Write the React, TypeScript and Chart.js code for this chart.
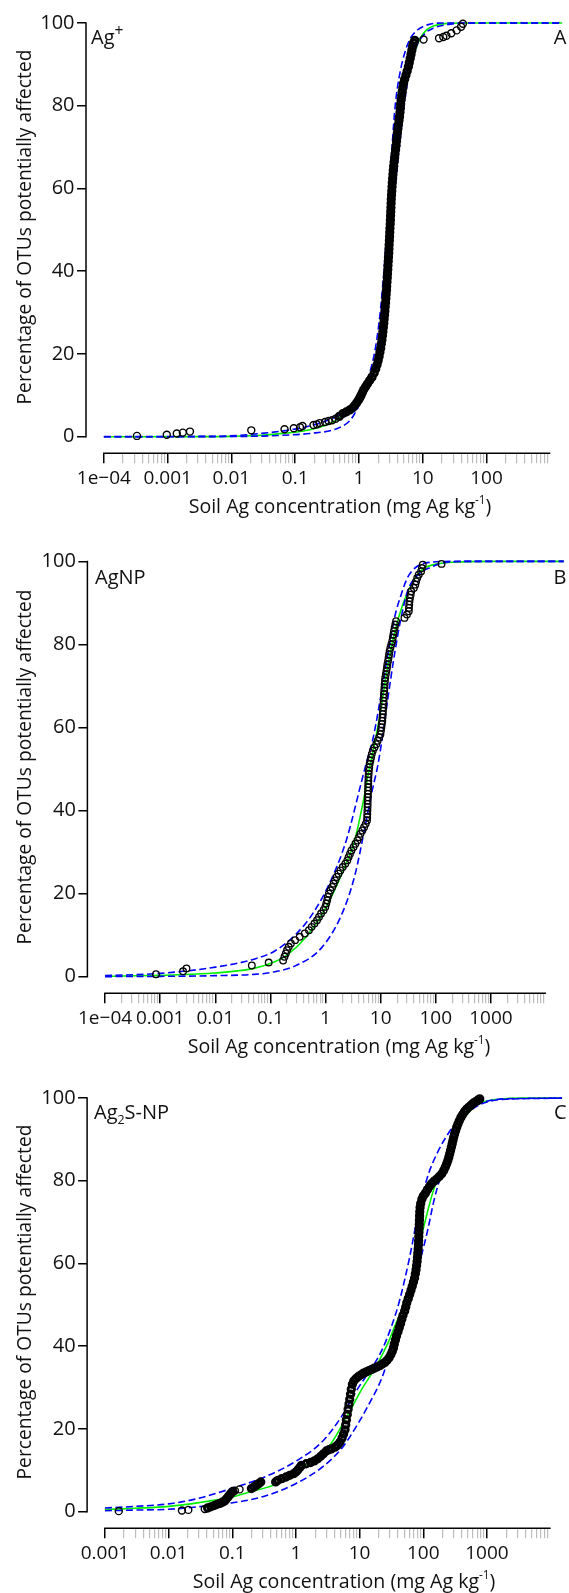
import React, { useEffect, useRef } from 'react';
import { Chart, registerables } from 'chart.js';

Chart.register(...registerables);

type Pt = [number, number];

// ---------------- Panel A : Ag+ ----------------
const agIonOpen: Pt[] = [
  [0.00033, 0.2], [0.00097, 0.5], [0.00139, 0.8], [0.00173, 1.0], [0.00224, 1.25],
  [0.0205, 1.55], [0.068, 1.8], [0.095, 2.05], [0.119, 2.3], [0.13, 2.6], [0.194, 2.85],
  [0.218, 3.0], [0.242, 3.3], [0.294, 3.55], [0.334, 3.8], [0.38, 4.0], [0.43, 4.35],
  [10.3, 96.0], [18, 96.3], [21, 96.6], [23.5, 96.9], [28, 97.5], [34, 98.2], [40, 99.1], [42.6, 99.8],
];
const agIonDense: Pt[] = [
  [0.49, 4.9], [0.56, 5.6], [0.63, 6.0], [0.72, 6.5], [0.8, 7.0], [0.86, 7.6], [0.92, 8.2], [0.98, 8.8],
  [1.03, 9.4], [1.08, 10.0], [1.13, 10.7], [1.19, 11.4], [1.27, 12.1], [1.36, 12.8], [1.47, 13.6], [1.6, 14.4],
  [1.73, 15.4], [1.83, 16.4], [1.92, 17.4], [2.0, 18.4], [2.07, 19.4], [2.13, 20.4], [2.19, 21.4], [2.24, 22.4],
  [2.29, 23.4], [2.33, 24.4], [2.37, 25.4], [2.41, 26.4], [2.45, 27.4], [2.48, 28.4], [2.52, 29.4], [2.55, 30.4],
  [2.58, 31.4], [2.61, 32.4], [2.64, 33.4], [2.67, 34.4], [2.7, 35.4], [2.72, 36.4], [2.75, 37.4], [2.78, 38.4],
  [2.8, 39.4], [2.83, 40.4], [2.85, 41.4], [2.88, 42.4], [2.9, 43.4], [2.93, 44.4], [2.95, 45.4], [2.97, 46.4],
  [3.0, 47.4], [3.02, 48.4], [3.04, 49.4], [3.06, 50.4], [3.09, 51.4], [3.11, 52.4], [3.13, 53.4], [3.15, 54.4],
  [3.17, 55.4], [3.19, 56.4], [3.21, 57.4], [3.24, 58.4], [3.27, 59.4], [3.3, 60.4], [3.33, 61.4], [3.37, 62.4],
  [3.41, 63.4], [3.45, 64.4], [3.5, 65.4], [3.56, 66.4], [3.62, 67.4], [3.68, 68.4], [3.75, 69.4], [3.82, 70.4],
  [3.88, 71.4], [3.94, 72.4], [4.0, 73.4], [4.07, 74.4], [4.15, 75.4], [4.24, 76.4], [4.33, 77.4], [4.4, 78.4],
  [4.45, 79.4], [4.5, 80.4], [4.58, 81.4], [4.67, 82.4], [4.77, 83.4], [4.88, 84.4], [5.0, 85.4], [5.2, 86.4],
  [5.45, 87.4], [5.7, 88.4], [5.95, 89.4], [6.15, 90.4], [6.35, 91.4], [6.55, 92.4], [6.75, 93.4], [6.95, 94.4],
  [7.2, 95.2], [7.5, 95.8],
];
const agIonFit: Pt[] = [
  [1e-4, 0], [0.003, 0.02], [0.01, 0.1], [0.03, 0.35], [0.053, 0.7], [0.1, 1.1], [0.17, 1.7], [0.3, 2.8],
  [0.44, 4.0], [0.7, 6.4], [1.0, 9.0], [1.45, 12.8], [1.95, 19.8], [2.33, 27.7], [2.56, 35.6], [2.85, 43.6],
  [3.06, 51], [3.4, 60], [3.9, 70], [4.5, 78], [5.9, 87], [7.5, 93], [9.1, 96.3], [11.6, 98.4], [15, 99.3],
  [25, 99.9], [60, 100], [1e5, 100],
];
const agIonUpper: Pt[] = [
  [1e-4, 0.02], [0.003, 0.08], [0.009, 0.2], [0.029, 0.8], [0.08, 1.6], [0.17, 2.6], [0.44, 4.9], [0.76, 7.4],
  [1.21, 11.9], [1.73, 19.8], [2.07, 27.7], [2.33, 35.6], [2.57, 43.6], [2.78, 51.5], [3.0, 60], [3.3, 70],
  [3.7, 80], [4.4, 88], [5.4, 93.5], [6.6, 96.6], [8.4, 98.4], [12.2, 99.6], [20, 100], [1e5, 100],
];
const agIonLower: Pt[] = [
  [1e-4, 0], [0.01, 0.05], [0.053, 0.3], [0.17, 0.8], [0.44, 1.9], [0.71, 3.8], [0.85, 5.5], [1.0, 7.5],
  [1.3, 11], [1.7, 16], [2.2, 25], [2.6, 35], [2.95, 45], [3.3, 52.5], [3.7, 60], [4.1, 67], [5.0, 79],
  [6.1, 87.8], [7.9, 94.2], [10.9, 97.5], [15, 98.8], [22, 99.5], [50, 100], [1e5, 100],
];
const agIonTickValues = [1e-4, 1e-3, 1e-2, 0.1, 1, 10, 100];
const agIonTickLabels = ['1e\u221204', '0.001', '0.01', '0.1', '1', '10', '100'];

// ---------------- Panel B : AgNP ----------------
const agnpPoints: Pt[] = [
  [0.00084, 0.6], [0.0026, 1.3], [0.003, 2.0], [0.046, 2.7], [0.093, 3.4], [0.17, 3.9], [0.18, 4.8], [0.19, 5.6],
  [0.2, 6.4], [0.215, 7.2], [0.235, 8.0], [0.28, 8.8], [0.34, 9.6], [0.42, 10.4], [0.5, 11.2], [0.56, 12.0],
  [0.63, 12.8], [0.7, 13.6], [0.76, 14.4], [0.83, 15.2], [0.92, 16.0], [0.99, 16.8], [1.03, 17.6], [1.07, 18.4],
  [1.1, 19.2], [1.15, 20.0], [1.23, 20.8], [1.32, 21.6], [1.4, 22.4], [1.49, 23.2], [1.59, 24.0], [1.72, 24.8],
  [1.86, 25.6], [2.05, 26.4], [2.28, 27.2], [2.48, 28.0], [2.62, 28.8], [2.78, 29.6], [2.95, 30.4], [3.22, 31.2],
  [3.48, 32.0], [3.78, 32.8], [4.05, 33.6], [4.3, 34.4], [4.65, 35.2], [5.0, 36.0], [5.35, 36.8], [5.65, 37.6],
  [5.7, 38.4], [5.72, 39.2], [5.75, 40.0], [5.78, 40.8], [5.8, 41.6], [5.82, 42.4], [5.85, 43.2], [5.88, 44.0],
  [5.9, 44.8], [5.92, 45.6], [5.95, 46.4], [5.98, 47.2], [6.0, 48.0], [6.05, 48.8], [6.1, 49.6], [6.2, 50.4],
  [6.3, 51.2], [6.5, 52.0], [6.7, 52.8], [6.9, 53.6], [7.2, 54.4], [7.7, 55.2], [8.3, 56.0], [8.8, 56.8],
  [9.4, 57.6], [9.9, 58.4], [10.1, 59.2], [10.3, 60.0], [10.5, 60.8], [10.7, 61.6], [10.8, 62.4], [10.9, 63.2],
  [11.0, 64.0], [11.1, 64.8], [11.2, 65.6], [11.3, 66.4], [11.4, 67.2], [11.5, 68.0], [11.6, 68.8], [11.7, 69.6],
  [11.8, 70.4], [11.95, 71.2], [12.1, 72.0], [12.4, 72.8], [12.7, 73.6], [13.0, 74.4], [13.2, 75.2], [13.6, 76.0],
  [13.9, 76.8], [14.2, 77.6], [14.5, 78.4], [15.0, 79.2], [15.6, 80.0], [16.2, 80.8], [16.6, 81.6], [17.0, 82.4],
  [17.4, 83.2], [17.9, 84.0], [18.4, 84.8], [19.0, 85.6], [27, 86.4], [30, 87.2], [32.4, 88.0], [32.6, 88.8],
  [33.0, 89.6], [33.3, 90.4], [34.0, 91.2], [35.0, 92.0], [35.8, 92.8], [40, 93.6], [42.5, 94.4], [44, 95.2],
  [46, 96.0], [49, 96.8], [54, 97.6], [56, 98.4], [58, 99.2], [127, 99.4],
];
const agnpFit: Pt[] = [
  [1e-4, 0.1], [0.001, 0.35], [0.01, 0.9], [0.05, 2.0], [0.12, 3.6], [0.2, 5.2], [0.46, 9.8], [1.0, 16.5],
  [2.0, 25], [3.4, 33], [4.8, 42], [6.2, 50], [8.0, 57], [10, 64], [13.5, 75], [18, 83], [25, 89.5], [40, 95.5],
  [61, 98.3], [107, 99.4], [300, 99.9], [1000, 100], [1e5, 100],
];
const agnpUpper: Pt[] = [
  [1e-4, 0.25], [0.001, 0.8], [0.01, 2.3], [0.05, 4.2], [0.12, 6.2], [0.29, 10.2], [0.62, 15.7], [1.3, 23.7],
  [2.4, 33], [4.5, 47], [5.5, 51.5], [7.3, 57.5], [10.2, 68], [13.5, 77.6], [17.8, 86.4], [23.4, 91.9],
  [31, 96.2], [47, 98.9], [81, 99.8], [200, 100], [1e5, 100],
];
const agnpLower: Pt[] = [
  [1e-4, 0.02], [0.001, 0.08], [0.01, 0.25], [0.05, 0.55], [0.1, 1.0], [0.28, 2.6], [0.85, 7], [1.95, 14.9],
  [3.4, 24.4], [5.1, 35.5], [6.8, 44], [8.9, 51], [11, 58.6], [13.5, 67], [17.8, 77.6], [23.4, 86.4], [31, 93],
  [47, 96.7], [81, 98.6], [161, 99.8], [400, 100], [1e5, 100],
];
const agnpTickValues = [1e-4, 1e-3, 1e-2, 0.1, 1, 10, 100, 1000];
const agnpTickLabels = ['1e\u221204', '0.001', '0.01', '0.1', '1', '10', '100', '1000'];

// ---------------- Panel C : Ag2S-NP ----------------
const ag2sOpen: Pt[] = [
  [0.00165, 0.15], [0.0162, 0.3], [0.0204, 0.45], [0.037, 0.65], [0.11, 5.1], [0.13, 5.4],
];
const ag2sDense: Pt[] = [
  [0.041, 0.9], [0.046, 1.2], [0.052, 1.5], [0.058, 1.8], [0.064, 2.0], [0.07, 2.3], [0.076, 2.6], [0.08, 3.0],
  [0.085, 3.5], [0.09, 4.0], [0.096, 4.5], [0.102, 4.9], [0.2, 5.6], [0.22, 6.0], [0.24, 6.4], [0.26, 6.8],
  [0.28, 7.2], [0.48, 7.2], [0.52, 7.6], [0.6, 8.0], [0.7, 8.4], [0.8, 8.8], [0.92, 9.2], [1.0, 9.6],
  [1.07, 10.1], [1.15, 10.7], [1.22, 11.2], [1.45, 11.6], [1.7, 11.9], [1.95, 12.3], [2.2, 12.8], [2.45, 13.4],
  [2.7, 14.0], [3.0, 14.7], [3.3, 15.0], [3.6, 15.2], [4.1, 15.6], [4.5, 16.1], [4.9, 16.8], [5.3, 17.8],
  [5.6, 18.8], [5.9, 19.8], [6.05, 21], [6.2, 22.2], [6.4, 23.5], [6.6, 24.8], [6.8, 26], [7.0, 27.2],
  [7.2, 28.4], [7.4, 29.6], [7.7, 30.8], [8.1, 31.6], [8.8, 32.2], [9.6, 32.7], [10.5, 33.1], [11.5, 33.5],
  [12.7, 33.8], [14, 34.1], [15.5, 34.4], [17, 34.7], [18.8, 35.0], [20.7, 35.3], [22.8, 35.7], [25, 36.1],
  [27, 36.6], [29, 37.2], [31, 38], [32.6, 38.8], [34, 39.6], [35, 40.5], [36.5, 41.5], [38, 42.5],
  [40, 43.5], [42, 44.5], [44, 45.5], [46, 46.5], [48, 47.5], [51, 48.5], [53, 49.5], [55, 50.5],
  [58, 51.5], [61, 52.5], [64, 53.5], [67, 54.5], [70, 55.5], [73, 56.5], [75, 57.5], [77, 58.5],
  [78.5, 59.5], [80, 60.5], [81, 61.5], [82, 62.5], [83, 63.5], [84, 64.5], [84.5, 65.5], [85, 66.5],
  [85.5, 67.5], [86, 68.5], [86.5, 69.5], [87, 70.5], [87.5, 71.5], [88, 72.5], [89, 73.5], [91, 74.5],
  [95, 75.5], [100, 76.3], [108, 77], [116, 77.8], [125, 78.6], [135, 79.3], [148, 79.9], [162, 80.4],
  [178, 81], [195, 81.7], [210, 82.5], [222, 83.3], [233, 84.1], [243, 84.9], [252, 85.7], [260, 86.5],
  [268, 87.3], [276, 88.1], [284, 88.9], [292, 89.7], [300, 90.5], [310, 91.3], [322, 92.1], [335, 92.9],
  [350, 93.7], [368, 94.5], [390, 95.3], [415, 96.0], [445, 96.7], [480, 97.3], [520, 97.8], [565, 98.3],
  [615, 98.8], [665, 99.1], [710, 99.4], [750, 99.6], [770, 99.8],
];
const ag2sFit: Pt[] = [
  [0.001, 0.55], [0.003, 0.85], [0.01, 1.3], [0.03, 2.2], [0.1, 3.6], [0.17, 4.6], [0.57, 7.1], [1.46, 11.5],
  [3.3, 15.8], [6.1, 22.6], [11, 29.8], [17.6, 34.8], [28.3, 41], [36, 45], [50, 50], [65, 56], [85, 64],
  [110, 71], [140, 77], [187, 82.5], [268, 88.5], [383, 93.7], [550, 97], [800, 98.8], [1500, 99.7],
  [4000, 100], [1e5, 100],
];
const ag2sUpper: Pt[] = [
  [0.001, 0.9], [0.003, 1.3], [0.01, 1.9], [0.029, 3.2], [0.096, 5.6], [0.31, 8.3], [1.02, 12.3], [2.65, 17.1],
  [5.4, 23.4], [8.7, 29], [13.9, 33.7], [22, 38.8], [31.8, 44.9], [42, 50.8], [61, 61.5], [83, 72], [117, 81],
  [167, 86.8], [270, 92.3], [383, 95.2], [615, 97.8], [1000, 99.2], [2000, 99.8], [1e5, 100],
];
const ag2sLower: Pt[] = [
  [0.001, 0.25], [0.003, 0.4], [0.01, 0.6], [0.029, 1.2], [0.096, 2.1], [0.31, 3.7], [1.02, 6.9], [2.65, 10.9],
  [5.4, 15.6], [8.7, 20.4], [13.9, 25.9], [22.3, 32.3], [31.8, 39.5], [45, 46], [65, 53.5], [90, 61], [117, 68],
  [148, 75.4], [187, 81], [240, 86], [302, 91], [383, 94.3], [615, 97.5], [1000, 99], [2000, 99.7], [1e5, 100],
];
const ag2sTickValues = [1e-3, 1e-2, 0.1, 1, 10, 100, 1000];
const ag2sTickLabels = ['0.001', '0.01', '0.1', '1', '10', '100', '1000'];

const yTickValues = [0, 20, 40, 60, 80, 100];
const yAxisTitle = 'Percentage of OTUs potentially affected';
const xAxisTitle = 'Soil Ag concentration (mg Ag kg';

// ---------------- layout / style ----------------
const FAMILY = "'Open Sans', 'Noto Sans', 'DejaVu Sans', sans-serif";
const W = 569;
const BOTTOM = 453.3; // chart-area bottom inside each canvas (y = -4)
const YMAX = 103.88;

type Part = { t: string; rel?: number; dy?: number };

interface PanelCfg {
  top: number; height: number; left: number; padRight: number;
  xMinExp: number; xMaxExp: number; axisFromExp: number; axisToExp: number;
  tickValues: number[]; tickLabels: string[];
  open: Pt[]; dense: Pt[]; fit: Pt[]; upper: Pt[]; lower: Pt[];
  denseRadius: number; denseBorder: number;
  name: Part[]; nameX: number; nameY: number; letter: string; letterY: number;
  xTitleCenter: number;
}

const panels: PanelCfg[] = [
  {
    top: 0, height: 530, left: 86, padRight: 0,
    xMinExp: -4.28, xMaxExp: 3.185, axisFromExp: -4, axisToExp: 3,
    tickValues: agIonTickValues, tickLabels: agIonTickLabels,
    open: agIonOpen, dense: agIonDense, fit: agIonFit, upper: agIonUpper, lower: agIonLower,
    denseRadius: 3.2, denseBorder: 2.9,
    name: [{ t: 'Ag' }, { t: '+', rel: 0.78, dy: -0.42 }], nameX: 91, nameY: 44, letter: 'A', letterY: 44,
    xTitleCenter: 340,
  },
  {
    top: 540, height: 530, left: 87.4, padRight: 1.5,
    xMinExp: -4.32, xMaxExp: 4.32, axisFromExp: -4, axisToExp: 4,
    tickValues: agnpTickValues, tickLabels: agnpTickLabels,
    open: [], dense: agnpPoints, fit: agnpFit, upper: agnpUpper, lower: agnpLower,
    denseRadius: 3.3, denseBorder: 1.3,
    name: [{ t: 'AgNP' }], nameX: 95, nameY: 44, letter: 'B', letterY: 44,
    xTitleCenter: 339,
  },
  {
    top: 1075, height: 518, left: 87.1, padRight: 0,
    xMinExp: -3.28, xMaxExp: 4.18, axisFromExp: -3, axisToExp: 4,
    tickValues: ag2sTickValues, tickLabels: ag2sTickLabels,
    open: ag2sOpen, dense: ag2sDense, fit: ag2sFit, upper: ag2sUpper, lower: ag2sLower,
    denseRadius: 3.2, denseBorder: 2.9,
    name: [{ t: 'Ag' }, { t: '2', rel: 0.62, dy: 0.25 }, { t: 'S-NP' }], nameX: 94, nameY: 44, letter: 'C', letterY: 44,
    xTitleCenter: 344,
  },
];

function drawParts(ctx: CanvasRenderingContext2D, parts: Part[], x: number, y: number,
  align: 'left' | 'right' | 'center', size: number, fitWidth?: number) {
  const measure = (s: number) => parts.map(p => {
    ctx.font = `${s * (p.rel ?? 1)}px ${FAMILY}`;
    return ctx.measureText(p.t).width;
  });
  let widths = measure(size);
  let total = widths.reduce((a, b) => a + b, 0);
  if (fitWidth) {
    size = size * fitWidth / total;
    widths = measure(size);
    total = widths.reduce((a, b) => a + b, 0);
  }
  let cx = align === 'left' ? x : align === 'right' ? x - total : x - total / 2;
  ctx.textAlign = 'left';
  ctx.textBaseline = 'alphabetic';
  parts.forEach((p, i) => {
    ctx.font = `${size * (p.rel ?? 1)}px ${FAMILY}`;
    ctx.fillText(p.t, cx, y + (p.dy ?? 0) * size);
    cx += widths[i];
  });
}

function makePlugin(p: PanelCfg) {
  return {
    id: 'rStyle',
    afterDraw(chart: any) {
      const { ctx, chartArea } = chart;
      const xs = chart.scales.x;
      const ys = chart.scales.y;
      ctx.save();
      ctx.strokeStyle = '#000';
      ctx.lineWidth = 1.5;
      ctx.beginPath();
      ctx.moveTo(chartArea.left, ys.getPixelForValue(0) + 0.75);
      ctx.lineTo(chartArea.left, ys.getPixelForValue(100) - 0.75);
      ctx.stroke();
      ctx.beginPath();
      ctx.moveTo(xs.getPixelForValue(Math.pow(10, p.axisFromExp)) - 0.75, chartArea.bottom);
      ctx.lineTo(xs.getPixelForValue(Math.pow(10, p.axisToExp)), chartArea.bottom);
      ctx.stroke();

      ctx.fillStyle = '#111';
      drawParts(ctx, p.name, p.nameX, p.nameY, 'left', 20);
      drawParts(ctx, [{ t: p.letter }], 566.5, p.letterY, 'right', 20);
      drawParts(ctx, [{ t: xAxisTitle }, { t: '-1', rel: 0.6, dy: -0.42 }, { t: ')' }],
        p.xTitleCenter, 512.5, 'center', 20, 303);
      ctx.translate(31, 227);
      ctx.rotate(-Math.PI / 2);
      drawParts(ctx, [{ t: yAxisTitle }], 0, 0, 'center', 20, 355);
      ctx.restore();
    },
  };
}

function buildChart(canvas: HTMLCanvasElement, p: PanelCfg) {
  const toXY = (a: Pt[]) => a.map(([x, y]) => ({ x, y }));
  const sameVal = (a: number, b: number) => Math.abs(Math.log10(a) - Math.log10(b)) < 1e-6;
  const isMajor = (v: number) => p.tickValues.some(t => sameVal(v, t));
  const xTicks: number[] = [];
  for (let k = p.axisFromExp; k < p.axisToExp; k++) {
    for (let m = 1; m <= 9; m++) xTicks.push(m * Math.pow(10, k));
  }
  const tickFont = { family: FAMILY, size: 19 };
  const pointSet = (data: Pt[], r: number, bw: number) => ({
    data: toXY(data), showLine: false, pointRadius: r, pointBorderWidth: bw,
    pointBorderColor: '#000', borderColor: '#000',
    pointBackgroundColor: 'rgba(0,0,0,0)', backgroundColor: 'rgba(0,0,0,0)', order: 0,
  });
  const lineSet = (data: Pt[], color: string, dash: number[], order: number) => ({
    data: toXY(data), showLine: true, borderColor: color, borderWidth: 1.6, borderDash: dash,
    pointRadius: 0, cubicInterpolationMode: 'monotone', fill: false, order,
  });
  return new Chart(canvas, {
    type: 'scatter',
    data: {
      datasets: [
        pointSet(p.dense, p.denseRadius, p.denseBorder),
        pointSet(p.open, 3.5, 1.4),
        lineSet(p.upper, '#0000ff', [7, 3.5], 1),
        lineSet(p.lower, '#0000ff', [7, 3.5], 1),
        lineSet(p.fit, '#00ee00', [], 2),
      ] as any,
    },
    options: {
      responsive: false,
      animation: false,
      events: [],
      layout: { padding: { left: 0, top: 0, bottom: 0, right: p.padRight } },
      plugins: { legend: { display: false }, tooltip: { enabled: false } },
      scales: {
        x: {
          type: 'logarithmic', position: 'bottom', bounds: 'data',
          min: Math.pow(10, p.xMinExp), max: Math.pow(10, p.xMaxExp),
          afterBuildTicks: (s: any) => { s.ticks = xTicks.map(v => ({ value: v, major: isMajor(v) })); },
          afterFit: (s: any) => { s.height = p.height - BOTTOM; s.paddingLeft = 0; s.paddingRight = 0; },
          border: { display: false },
          grid: {
            drawOnChartArea: false, drawTicks: true, tickLength: 10,
            color: (c: any) => (c.tick && isMajor(c.tick.value) ? '#000' : '#bdbdbd'),
            lineWidth: (c: any) => (c.tick && isMajor(c.tick.value) ? 1.5 : 1.2),
          },
          ticks: {
            autoSkip: false, maxRotation: 0, minRotation: 0, padding: 3.6, color: '#111', font: tickFont,
            callback: (v: any) => {
              const i = p.tickValues.findIndex(t => sameVal(Number(v), t));
              return i >= 0 ? p.tickLabels[i] : '';
            },
          },
        } as any,
        y: {
          type: 'linear', position: 'left', bounds: 'data', min: -4, max: YMAX,
          afterBuildTicks: (s: any) => { s.ticks = yTickValues.map(v => ({ value: v })); },
          afterFit: (s: any) => { s.width = p.left; s.paddingTop = 0; s.paddingBottom = 0; },
          border: { display: false },
          grid: { drawOnChartArea: false, drawTicks: true, tickLength: 9, color: '#000', lineWidth: 1.5 },
          ticks: { padding: 2.5, color: '#111', font: { family: FAMILY, size: 20 }, callback: (v: any) => String(v) },
        } as any,
      },
    },
    plugins: [makePlugin(p)],
  } as any);
}

function Panel({ p }: { p: PanelCfg }) {
  const ref = useRef<HTMLCanvasElement>(null);
  useEffect(() => {
    if (!ref.current) return;
    const chart = buildChart(ref.current, p);
    return () => chart.destroy();
  }, [p]);
  return (
    <canvas
      ref={ref}
      width={W}
      height={p.height}
      style={{ position: 'absolute', left: 0, top: p.top, width: W, height: p.height, display: 'block' }}
    />
  );
}

export default function App() {
  return (
    <div style={{ position: 'absolute', left: 0, top: 0, width: W, height: 1593, background: '#fff', overflow: 'hidden' }}>
      {panels.map((p, i) => <Panel key={i} p={p} />)}
    </div>
  );
}
